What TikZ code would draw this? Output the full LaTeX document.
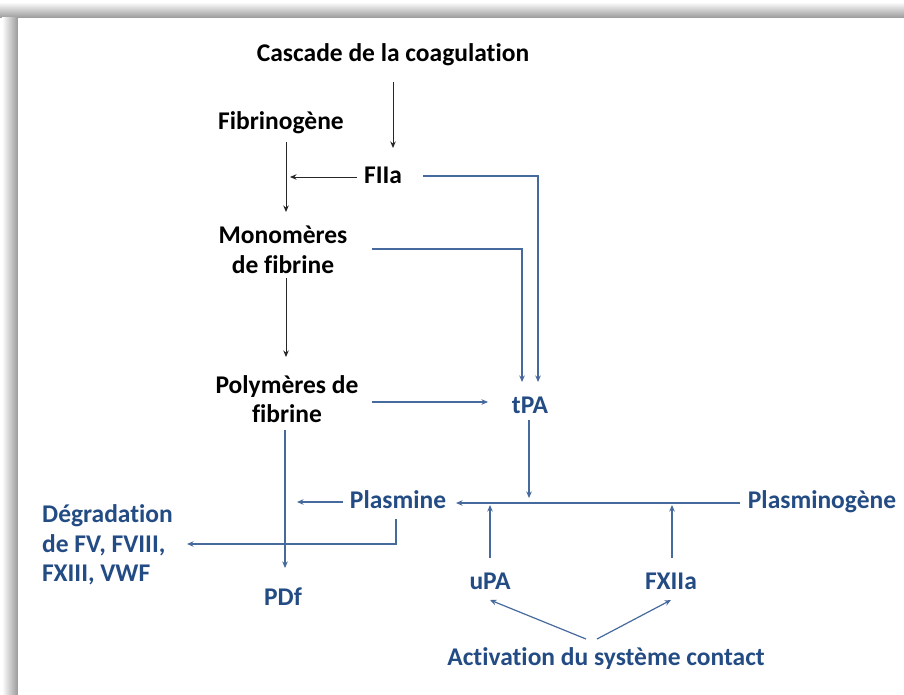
\documentclass[tikz,border=0pt]{standalone}
\usepackage{fontspec}
\setmainfont{Carlito}[Ligatures=NoCommon]
\usetikzlibrary{arrows.meta}
\definecolor{txtblue}{RGB}{36,76,132}
\definecolor{lnblue}{RGB}{70,106,158}
\begin{document}
\begin{tikzpicture}[x=1pt,y=-1pt,
  lbl/.style={font=\bfseries\fontsize{25.5}{29.5}\selectfont, inner sep=0pt, align=center},
  blk/.style={lbl,text=black},
  blu/.style={lbl,text=txtblue},
  karrow/.style={draw=black!85,line width=0.9pt,-{Stealth[length=6.5pt,width=5.5pt]}},
  barrow/.style={draw=lnblue,line width=1.2pt,-{Stealth[length=6.5pt,width=5.5pt]}}]

% page and drop shadow along the top and left edges
\fill[white] (0,0) rectangle (904,695);
\shade[top color=white,bottom color=gray!80] (0,2) rectangle (904,18);
\shade[left color=white,right color=gray!80] (2,18) rectangle (18,695);
\fill[white] (18,18) rectangle (904,695);

% labels
\node[blk] (casc) at (393,55) {Cascade de la coagulation};
\node[blk] (fbg) at (281,123) {Fibrinogène};
\node[blk] (fiia) at (383,175) {FIIa};
\node[blk] (mono) at (283,250) {Monomères\\de fibrine};
\node[blk] (poly) at (287,399) {Polymères de\\fibrine};
\node[blu] (tpa) at (530,405) {tPA};
\node[blu] (plm) at (398,500) {Plasmine};
\node[blu] (plg) at (822,502) {Plasminogène};
\node[blu,align=left,anchor=west] (deg) at (42,545) {Dégradation\\de FV, FVIII,\\FXIII, VWF};
\node[blu] (pdf) at (283,597) {PDf};
\node[blu] (upa) at (490,581) {uPA};
\node[blu] (fxiia) at (671,581) {FXIIa};
\node[blu] (act) at (606,659) {Activation du système contact};

% connector end points
\coordinate (cascA) at (393,82);   \coordinate (cascB) at (393,148);
\coordinate (fbgA) at (286,142);   \coordinate (fbgB) at (286,212);
\coordinate (fiiaA) at (357,177);  \coordinate (fiiaB) at (290,177);
\coordinate (monoA) at (286,278);  \coordinate (monoB) at (286,357);
\coordinate (fiiaC) at (423,176);  \coordinate (fiiaD) at (538,382);
\coordinate (monoC) at (372,249);  \coordinate (monoD) at (522,382);
\coordinate (polyA) at (372,402);  \coordinate (polyB) at (488,402);
\coordinate (polyC) at (285,430);  \coordinate (polyD) at (285,568);
\coordinate (tpaA) at (529,420);   \coordinate (tpaB) at (529,498);
\coordinate (plgA) at (740,503);   \coordinate (plgB) at (456,503);
\coordinate (plmA) at (343,502);   \coordinate (plmB) at (297,502);
\coordinate (plmC) at (396,519);   \coordinate (plmD) at (187,544);
\coordinate (upaA) at (490,558);   \coordinate (upaB) at (490,505);
\coordinate (fxA) at (672,558);    \coordinate (fxB) at (672,505);
\coordinate (actA) at (586,639);   \coordinate (actB) at (490,600);
\coordinate (actC) at (597,639);   \coordinate (actD) at (671,600);

% coagulation branch (black)
\draw[karrow] (cascA) -- (cascB);
\draw[karrow] (fbgA) -- (fbgB);
\draw[karrow] (fiiaA) -- (fiiaB);
\draw[karrow] (monoA) -- (monoB);

% fibrinolysis branch (blue)
\draw[barrow] (fiiaC) -| (fiiaD);
\draw[barrow] (monoC) -| (monoD);
\draw[barrow] (polyA) -- (polyB);
\draw[barrow] (polyC) -- (polyD);
\draw[barrow] (tpaA) -- (tpaB);
\draw[barrow] (plgA) -- (plgB);
\draw[barrow] (plmA) -- (plmB);
\draw[barrow] (plmC) |- (plmD);
\draw[barrow] (upaA) -- (upaB);
\draw[barrow] (fxA) -- (fxB);
\draw[barrow] (actA) -- (actB);
\draw[barrow] (actC) -- (actD);
\end{tikzpicture}
\end{document}
